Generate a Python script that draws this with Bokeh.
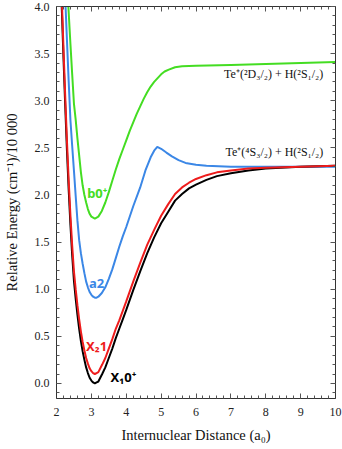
from bokeh.plotting import figure
from bokeh.models import (LinearAxis, SingleIntervalTicker, Range1d, Label,
                          NumeralTickFormatter)
from bokeh.embed import file_html
from bokeh.resources import INLINE

# ---------------- data ----------------
r_x10 = [2.10, 2.15, 2.20, 2.25, 2.30, 2.35, 2.40, 2.45, 2.50, 2.55, 2.60, 2.65,
         2.70, 2.75, 2.80, 2.85, 2.90, 2.95, 3.00, 3.05, 3.10, 3.15, 3.20, 3.31,
         3.40, 3.50, 3.60, 3.70, 3.80, 3.90, 4.00, 4.20, 4.40, 4.60, 4.80, 5.00,
         5.20, 5.40, 5.60, 5.80, 6.00, 6.30, 6.60, 7.00, 7.50, 8.00, 9.00, 10.0]
e_x10 = [4.60, 4.00, 3.46, 2.95, 2.47, 2.05, 1.68, 1.36, 1.09, 0.90, 0.73, 0.58,
         0.45, 0.34, 0.25, 0.17, 0.11, 0.06, 0.03, 0.01, 0.00, 0.01, 0.02, 0.10,
         0.17, 0.27, 0.37, 0.48, 0.58, 0.68, 0.78, 0.99, 1.19, 1.38, 1.55, 1.70,
         1.82, 1.94, 2.01, 2.07, 2.11, 2.16, 2.20, 2.23, 2.26, 2.28, 2.30, 2.31]

r_x21 = [2.10, 2.15, 2.20, 2.25, 2.30, 2.35, 2.40, 2.45, 2.50, 2.55, 2.60, 2.65,
         2.70, 2.75, 2.80, 2.85, 2.90, 2.95, 3.00, 3.05, 3.10, 3.15, 3.20, 3.31,
         3.40, 3.50, 3.60, 3.70, 3.80, 3.90, 4.00, 4.20, 4.40, 4.60, 4.80, 5.00,
         5.20, 5.40, 5.60, 5.80, 6.00, 6.30, 6.60, 7.00, 7.50, 8.00, 9.00, 10.0]
e_x21 = [4.70, 4.10, 3.56, 3.05, 2.57, 2.15, 1.78, 1.46, 1.19, 1.00, 0.83, 0.68,
         0.55, 0.44, 0.35, 0.27, 0.21, 0.16, 0.13, 0.11, 0.10, 0.11, 0.12, 0.20,
         0.27, 0.37, 0.47, 0.58, 0.67, 0.77, 0.87, 1.08, 1.28, 1.47, 1.63, 1.78,
         1.90, 2.01, 2.08, 2.13, 2.17, 2.21, 2.24, 2.26, 2.28, 2.29, 2.30, 2.31]

r_a2 = [2.20, 2.26, 2.30, 2.35, 2.40, 2.45, 2.50, 2.55, 2.60, 2.65, 2.70, 2.75,
        2.80, 2.85, 2.90, 2.95, 3.00, 3.05, 3.10, 3.15, 3.20, 3.30, 3.40, 3.50,
        3.60, 3.70, 3.80, 3.90, 4.00, 4.20, 4.40, 4.55, 4.70, 4.80, 4.89, 5.00,
        5.15, 5.31, 5.50, 5.70, 6.00, 6.30, 7.00, 8.00, 10.0]
e_a2 = [4.55, 4.00, 3.64, 3.20, 2.79, 2.52, 2.26, 1.99, 1.73, 1.52, 1.38, 1.27,
        1.17, 1.08, 1.02, 0.97, 0.94, 0.92, 0.91, 0.91, 0.92, 0.96, 1.02, 1.11,
        1.21, 1.33, 1.45, 1.56, 1.66, 1.88, 2.08, 2.26, 2.40, 2.47, 2.51, 2.49,
        2.45, 2.41, 2.37, 2.34, 2.32, 2.31, 2.30, 2.30, 2.30]

r_b0 = [2.28, 2.34, 2.40, 2.45, 2.50, 2.55, 2.60, 2.65, 2.70, 2.75, 2.80, 2.85,
        2.90, 2.95, 3.00, 3.10, 3.20, 3.30, 3.40, 3.50, 3.60, 3.70, 3.80, 3.90,
        4.00, 4.10, 4.20, 4.30, 4.40, 4.50, 4.60, 4.70, 4.80, 4.90, 5.00, 5.10,
        5.22, 5.40, 5.60, 6.00, 7.00, 8.00, 9.00, 10.0]
e_b0 = [4.50, 4.00, 3.60, 3.28, 2.97, 2.80, 2.60, 2.42, 2.24, 2.10, 2.00, 1.92,
        1.85, 1.80, 1.77, 1.75, 1.77, 1.83, 1.92, 2.03, 2.15, 2.27, 2.38, 2.48,
        2.58, 2.68, 2.77, 2.86, 2.94, 3.02, 3.09, 3.15, 3.20, 3.24, 3.28, 3.31,
        3.33, 3.355, 3.365, 3.37, 3.38, 3.39, 3.40, 3.41]

x_ticks_interval = 1
y_ticks_interval = 0.5

col_black = "#000000"
col_red = "#ee1c1c"
col_blue = "#3b87e6"
col_green = "#44dd22"

SERIF = "Liberation Serif"
SANS = "Noto Sans"

p = figure(width=342, height=449, output_backend="svg", toolbar_location=None,
           x_range=Range1d(2, 10), y_range=Range1d(-0.16, 4.0),
           min_border_left=56, min_border_right=7, min_border_top=6,
           min_border_bottom=51, outline_line_color=None)
p.xgrid.visible = False
p.ygrid.visible = False
p.background_fill_color = "white"
p.border_fill_color = "white"

def style_axis(ax, ticker, labels=True):
    ax.ticker = ticker
    ax.major_tick_in = 5
    ax.major_tick_out = 0
    ax.minor_tick_in = 3
    ax.minor_tick_out = 0
    ax.axis_line_color = "#333333"
    ax.major_tick_line_color = "#555555"
    ax.minor_tick_line_color = "#555555"
    ax.major_label_text_font = SERIF
    ax.major_label_text_color = "#222222" if labels else None
    ax.major_label_text_font_size = "12px" if labels else "1px"
    ax.major_label_standoff = 7 if labels else 0
    ax.axis_label_text_font = SERIF
    ax.axis_label_text_font_size = "14.5px"
    ax.axis_label_text_font_style = "normal"
    ax.axis_label_text_color = "#111111"

xt = lambda: SingleIntervalTicker(interval=x_ticks_interval, num_minor_ticks=5)
yt = lambda: SingleIntervalTicker(interval=y_ticks_interval, num_minor_ticks=5)

style_axis(p.xaxis[0], xt())
style_axis(p.yaxis[0], yt())
p.xaxis[0].axis_label = "Internuclear Distance (a\u2080)"
p.yaxis[0].axis_label = "Relative Energy (cm\u207b\u00b9)/10 000"
p.yaxis[0].formatter = NumeralTickFormatter(format="0.0")
p.yaxis[0].axis_label_standoff = 12
p.xaxis[0].axis_label_standoff = 8
p.xaxis[0].major_label_standoff = 9

top_ax = LinearAxis()
style_axis(top_ax, xt(), labels=False)
p.add_layout(top_ax, "above")
right_ax = LinearAxis()
style_axis(right_ax, yt(), labels=False)
p.add_layout(right_ax, "right")

for r, e, c in [(r_b0, e_b0, col_green), (r_a2, e_a2, col_blue),
                (r_x10, e_x10, col_black), (r_x21, e_x21, col_red)]:
    p.line(r, e, line_color=c, line_width=2)

curve_labels = [("b0\u207a", 3.17, 2.02, col_green),
                ("a2", 3.15, 1.07, col_blue),
                ("X\u20821", 3.15, 0.40, col_red),
                ("X\u20810\u207a", 3.92, 0.07, col_black)]
for t, x, y, c in curve_labels:
    p.add_layout(Label(x=x, y=y, text=t, text_color=c, text_font=SANS,
                       text_font_size="13px", text_font_style="bold",
                       text_align="center", text_baseline="middle"))

asym_labels = [("Te\u207a(\u00b2D\u2083/\u2082) + H(\u00b2S\u2081/\u2082)", 9.65, 3.28),
               ("Te\u207a(\u2074S\u2083/\u2082) + H(\u00b2S\u2081/\u2082)", 9.65, 2.46)]
for t, x, y in asym_labels:
    p.add_layout(Label(x=x, y=y, text=t, text_color="#111111", text_font=SERIF,
                       text_font_size="12px", text_align="right",
                       text_baseline="middle"))

open("out.html", "w").write(file_html(p, INLINE))
